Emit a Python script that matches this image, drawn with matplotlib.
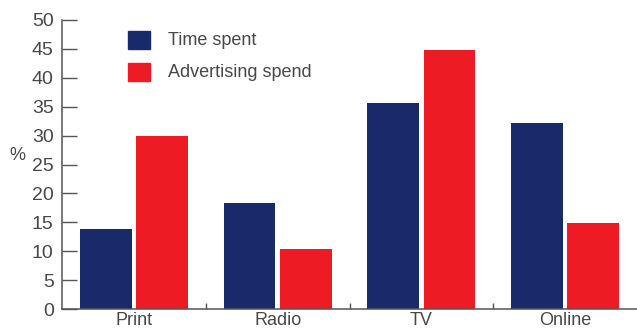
import matplotlib.pyplot as plt
import numpy as np
from matplotlib.patches import Rectangle

categories = ['Print', 'Radio', 'TV', 'Online']
time_spent = [13.8, 18.3, 35.6, 32.2]
ad_spend = [29.9, 10.4, 44.8, 14.9]
yticks = [0, 5, 10, 15, 20, 25, 30, 35, 40, 45, 50]

navy = '#182a6a'
red = '#ed1c24'
grey = '#484848'

plt.rcParams['font.family'] = ['Liberation Sans', 'DejaVu Sans']

fig = plt.figure(figsize=(6.37, 3.29), dpi=100)
ax = fig.add_axes([62/637, 20/329, 1 - 62/637, 289/329])

x = np.arange(len(categories)) + 0.5
w = 0.36
ax.bar(x - 0.195, time_spent, w, color=navy, label='Time spent')
ax.bar(x + 0.195, ad_spend, w, color=red, label='Advertising spend')

ax.set_xlim(0, 4)
ax.set_ylim(0, 50)
ax.set_yticks(yticks)
ax.tick_params(axis='y', direction='in', length=10.5, width=1, color='#555555',
               labelsize=14, labelcolor=grey, pad=6)

# group separators as ticks, names at the centres
ax.set_xticks([1, 2, 3])
ax.set_xticklabels([])
ax.set_xticks(x, minor=True)
ax.set_xticklabels(categories, minor=True)
ax.tick_params(axis='x', which='major', direction='in', length=4.5, width=1, color='#555555')
ax.tick_params(axis='x', which='minor', length=0, labelsize=13, labelcolor=grey, pad=2)

for s in ['top', 'right']:
    ax.spines[s].set_visible(False)
for s in ['left', 'bottom']:
    ax.spines[s].set_color('#555555')
    ax.spines[s].set_linewidth(1.1)

ax.text(-0.31, 26.5, '%', fontsize=13, color=grey, ha='center', va='center')

# legend drawn by hand to match the layout
leg = [(navy, 'Time spent', 46.5), (red, 'Advertising spend', 41.0)]
for col, lab, yy in leg:
    ax.add_patch(Rectangle((0.458, yy - 1.55), 0.153, 3.1, color=col, clip_on=False))
    ax.text(0.735, yy, lab, fontsize=13, color=grey, va='center', ha='left')

fig.savefig('out.png', dpi=100)
